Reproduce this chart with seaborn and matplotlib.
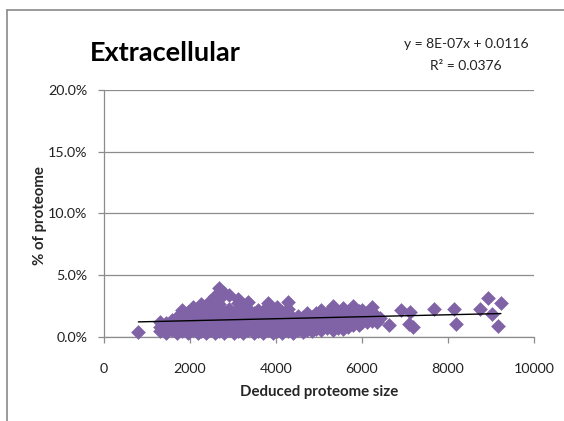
import numpy as np
import matplotlib
matplotlib.use("Agg")
import matplotlib.pyplot as plt
import seaborn as sns
from matplotlib.lines import Line2D
from matplotlib.ticker import MultipleLocator, PercentFormatter

# Deduced proteome size (number of proteins) per genome
proteome_size = [
    800,
    1300, 1300, 1300,
    1450, 1450, 1450,
    1580, 1580, 1580,
    1700, 1700, 1700, 1700,
    1820, 1820, 1820, 1820, 1820,
    1950, 1950, 1950, 1950, 1950,
    2060, 2060, 2060, 2060, 2060,
    2180, 2180, 2180, 2180, 2180, 2180,
    2260, 2260, 2260, 2260, 2260,
    2380, 2380, 2380, 2380, 2380, 2380,
    2460, 2460, 2460, 2460, 2460,
    2570, 2570, 2570, 2570, 2570, 2570, 2570,
    2680, 2680, 2680, 2680, 2680, 2680, 2680, 2680,
    2780, 2780, 2780, 2780, 2780, 2780,
    2900, 2900, 2900, 2900, 2900, 2900,
    3020, 3020, 3020, 3020, 3020,
    3120, 3120, 3120, 3120, 3120, 3120, 3120,
    3240, 3240, 3240, 3240, 3240, 3240,
    3360, 3360, 3360, 3360, 3360, 3360,
    3480, 3480, 3480, 3480, 3480,
    3570, 3570, 3570, 3570, 3570,
    3700, 3700, 3700, 3700, 3700,
    3820, 3820, 3820, 3820, 3820, 3820,
    3940, 3940, 3940, 3940,
    4020, 4020, 4020, 4020, 4020,
    4150, 4150, 4150, 4150, 4150,
    4280, 4280, 4280, 4280, 4280, 4280,
    4400, 4400, 4400, 4400,
    4500, 4500, 4500, 4500,
    4620, 4620, 4620, 4620,
    4720, 4720, 4720, 4720,
    4830, 4830, 4830, 4830,
    4920, 4920, 4920, 4920,
    5050, 5050, 5050, 5050, 5050,
    5180, 5180, 5180, 5180,
    5320, 5320, 5320, 5320, 5320, 5320,
    5440, 5440, 5440, 5440,
    5560, 5560, 5560, 5560, 5560,
    5680, 5680, 5680, 5680,
    5800, 5800, 5800, 5800,
    5920, 5920, 5920, 5920,
    6000, 6000, 6000,
    6120, 6120, 6120,
    6230, 6230, 6230, 6230,
    6350, 6350,
    6430,
    6620, 6900, 7100, 7120, 7190, 7680, 8150, 8190,
    8740, 8920, 9020, 9160, 9230,
]

# Extracellular proteins as a percentage of the proteome
extracellular_pct = [
    0.43,
    0.45, 0.85, 1.25,
    0.35, 0.75, 1.15,
    0.55, 0.95, 1.40,
    0.30, 0.70, 1.10, 1.60,
    0.50, 0.90, 1.30, 1.75, 2.20,
    0.35, 0.75, 1.15, 1.60, 2.00,
    0.55, 0.95, 1.40, 1.85, 2.45,
    0.30, 0.70, 1.10, 1.50, 1.95, 2.30,
    0.50, 0.90, 1.30, 1.75, 2.70,
    0.35, 0.75, 1.15, 1.60, 2.05, 2.50,
    0.55, 0.95, 1.40, 1.85, 2.95,
    0.30, 0.70, 1.10, 1.55, 2.00, 2.45, 3.35,
    0.50, 0.90, 1.30, 1.75, 2.20, 2.70, 3.10, 4.00,
    0.35, 0.75, 1.15, 1.60, 2.05, 3.55,
    0.55, 0.95, 1.40, 1.85, 2.25, 3.40,
    0.30, 0.70, 1.10, 1.50, 1.95,
    0.50, 0.90, 1.30, 1.75, 2.30, 2.75, 3.10,
    0.35, 0.75, 1.15, 1.60, 2.05, 2.55,
    0.55, 0.95, 1.40, 1.85, 2.30, 2.85,
    0.30, 0.70, 1.10, 1.55, 1.95,
    0.50, 0.90, 1.30, 1.75, 2.20,
    0.35, 0.75, 1.15, 1.60, 2.10,
    0.55, 0.95, 1.40, 1.85, 2.30, 2.75,
    0.35, 1.10, 1.55, 2.00,
    0.50, 0.90, 1.30, 1.75, 2.45,
    0.30, 0.70, 1.10, 1.55, 2.00,
    0.50, 0.90, 1.30, 1.75, 2.25, 2.85,
    0.35, 0.75, 1.15, 1.55,
    0.55, 0.95, 1.35, 1.70,
    0.40, 0.80, 1.20, 1.60,
    0.60, 1.00, 1.45, 1.95,
    0.45, 0.85, 1.25, 1.65,
    0.65, 1.05, 1.50, 1.95,
    0.60, 1.00, 1.40, 1.80, 2.20,
    0.75, 1.15, 1.55, 1.95,
    0.60, 1.00, 1.40, 1.80, 2.15, 2.50,
    0.75, 1.15, 1.55, 1.95,
    0.65, 1.05, 1.45, 1.85, 2.35,
    0.80, 1.20, 1.60, 2.00,
    0.95, 1.35, 1.75, 2.50,
    1.00, 1.40, 1.80, 2.10,
    1.20, 1.60, 2.20,
    1.25, 1.65, 1.95,
    1.30, 1.70, 2.05, 2.45,
    1.25, 1.60,
    1.55,
    0.97, 2.20, 1.05, 2.05, 0.83, 2.24, 2.24, 1.05,
    2.24, 3.18, 1.90, 0.89, 2.78,
]

# Linear trendline as reported on the chart
slope = 8e-07
intercept = 0.0116
r_squared = 0.0376

purple = "#7F63A6"
gray = "#8C8C8C"

sns.set_style("white")
plt.rcParams["font.family"] = ["Lato", "DejaVu Sans"]

fig = plt.figure(figsize=(5.64, 4.21), dpi=100)
ax = fig.add_axes([104 / 564, 1 - 337 / 421, 430 / 564, 247 / 421])

share = np.array(extracellular_pct) / 100.0
sns.scatterplot(x=proteome_size, y=share, marker="D", s=50, color=purple,
                edgecolor=purple, linewidth=0.4, ax=ax, clip_on=False,
                zorder=3, legend=False)

trend_x = np.array([min(proteome_size), max(proteome_size)], dtype=float)
trend_y = intercept + slope * trend_x
sns.lineplot(x=trend_x, y=trend_y, color="black", linewidth=1.0, ax=ax,
             zorder=4)

ax.set_xlim(0, 10000)
ax.set_ylim(0, 0.20)
ax.xaxis.set_major_locator(MultipleLocator(2000))
ax.yaxis.set_major_locator(MultipleLocator(0.05))
ax.yaxis.set_major_formatter(PercentFormatter(xmax=1, decimals=1))
ax.grid(axis="y", color=gray, linewidth=0.9)
ax.grid(axis="x", visible=False)
ax.set_axisbelow(True)
for side in ("top", "right"):
    ax.spines[side].set_visible(False)
for side in ("left", "bottom"):
    ax.spines[side].set_color(gray)
    ax.spines[side].set_linewidth(0.9)
ax.tick_params(axis="y", direction="out", length=4, width=0.9, color=gray,
               labelsize=10.3, labelcolor="#222222", pad=8, left=True)
ax.tick_params(axis="x", direction="out", length=4, width=0.9, color=gray,
               labelsize=10.3, labelcolor="#222222", pad=15, bottom=True)
ax.set_xlabel("")
ax.set_ylabel("")

fig.text(165 / 564, 1 - 53 / 421, "Extracellular", ha="center", va="center",
         fontsize=19.5, fontweight="bold", color="black")
fig.text(466 / 564, 1 - 44 / 421, f"y = {slope:.0E}x + {intercept:.4f}",
         ha="center", va="center", fontsize=10, color="#222222")
fig.text(466 / 564, 1 - 66 / 421, f"R\u00b2 = {r_squared:.4f}",
         ha="center", va="center", fontsize=10, color="#222222")
fig.text(40 / 564, 1 - 216 / 421, "% of proteome", rotation=90,
         ha="center", va="center", fontsize=10.8, fontweight="bold")
fig.text(319 / 564, 1 - 392 / 421, "Deduced proteome size",
         ha="center", va="center", fontsize=10.8, fontweight="bold")

# Chart-area frame along the top and left edges
border = "#8A8A8A"
fig.add_artist(Line2D([7 / 564, 1], [1 - 10 / 421, 1 - 10 / 421],
                      transform=fig.transFigure, color=border, linewidth=1.2))
fig.add_artist(Line2D([7 / 564, 7 / 564], [0, 1 - 10 / 421],
                      transform=fig.transFigure, color=border, linewidth=1.2))

fig.savefig("out.png", dpi=100)
